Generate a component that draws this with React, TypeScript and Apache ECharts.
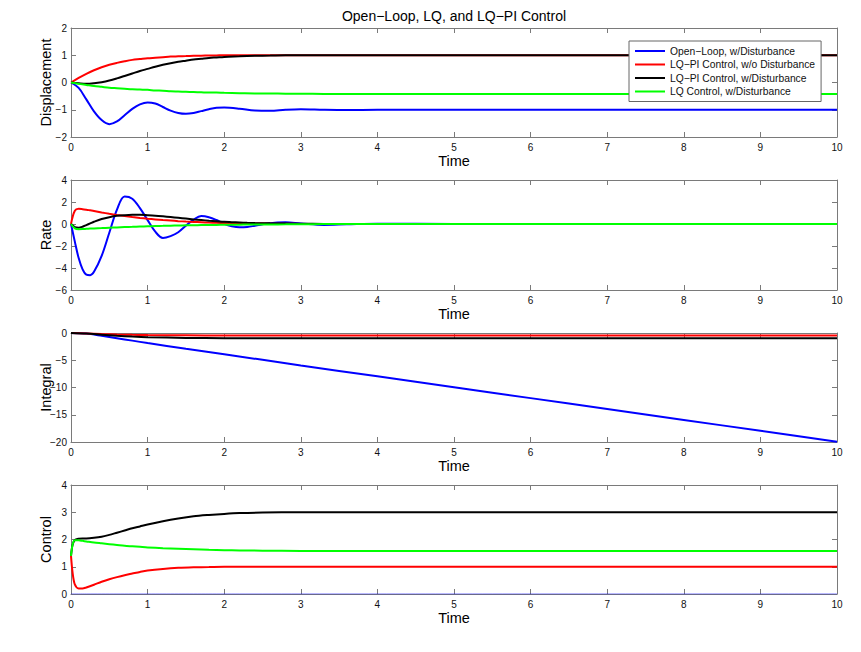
import { useEffect, useRef } from "react";
import * as echarts from "echarts";

// ---- labels -------------------------------------------------------------
const TITLE = "Open\u2212Loop, LQ, and LQ\u2212PI Control";
const SERIES_NAMES = [
  "Open\u2212Loop, w/Disturbance",
  "LQ\u2212PI Control, w/o Disturbance",
  "LQ\u2212PI Control, w/Disturbance",
  "LQ Control, w/Disturbance",
];
const COLORS = ["#0000ff", "#ff0000", "#000000", "#00ff00"];
const X_LABEL = "Time";

// ---- displacement -------------------------------------------------------
const tDisp = [0, 0.1, 0.2, 0.3, 0.4, 0.5, 0.6, 0.7, 0.8, 0.9, 1.0, 1.1, 1.2, 1.3, 1.4, 1.5, 1.6, 1.7, 1.8, 1.9, 2.0, 2.2, 2.4, 2.6, 2.8, 3.0, 3.3, 3.6, 4, 5, 6, 7, 8, 9, 10];
const dispOpenLoop = [0, -0.2, -0.62, -1.06, -1.38, -1.53, -1.43, -1.2, -0.97, -0.8, -0.73, -0.77, -0.9, -1.03, -1.12, -1.15, -1.12, -1.05, -0.98, -0.93, -0.92, -0.96, -1.03, -1.04, -1.0, -0.98, -1.0, -1.01, -1.0, -1.0, -1.0, -1.0, -1.0, -1.0, -1.0];
const dispPiClean = [0, 0.17, 0.32, 0.45, 0.56, 0.65, 0.72, 0.78, 0.83, 0.86, 0.89, 0.91, 0.93, 0.95, 0.96, 0.97, 0.98, 0.985, 0.99, 0.995, 1.0, 1.0, 1.0, 1.0, 1.0, 1.0, 1.0, 1.0, 1.0, 1.0, 1.0, 1.0, 1.0, 1.0, 1.0];
const dispPiDist = [0, -0.03, -0.05, -0.03, 0.01, 0.07, 0.15, 0.24, 0.33, 0.42, 0.5, 0.58, 0.65, 0.71, 0.76, 0.8, 0.84, 0.87, 0.9, 0.92, 0.94, 0.96, 0.98, 0.99, 1.0, 1.0, 1.0, 1.0, 1.0, 1.0, 1.0, 1.0, 1.0, 1.0, 1.0];
const dispLqDist = [0, -0.05, -0.09, -0.13, -0.16, -0.19, -0.21, -0.23, -0.25, -0.26, -0.27, -0.29, -0.3, -0.32, -0.33, -0.34, -0.35, -0.36, -0.37, -0.37, -0.38, -0.39, -0.4, -0.4, -0.41, -0.41, -0.42, -0.42, -0.42, -0.42, -0.42, -0.42, -0.42, -0.42, -0.42];

// ---- rate ---------------------------------------------------------------
const tRate = [0, 0.05, 0.1, 0.15, 0.2, 0.25, 0.3, 0.4, 0.5, 0.6, 0.7, 0.8, 0.9, 1.0, 1.1, 1.2, 1.3, 1.4, 1.5, 1.6, 1.7, 1.8, 1.9, 2.0, 2.1, 2.2, 2.3, 2.4, 2.6, 2.8, 3.0, 3.3, 3.6, 4, 5, 6, 7, 8, 9, 10];
const rateOpenLoop = [0, -1.6, -3.1, -4.1, -4.6, -4.65, -4.35, -2.9, -0.8, 1.3, 2.5, 2.3, 1.45, 0.35, -0.7, -1.27, -1.1, -0.75, -0.15, 0.4, 0.72, 0.62, 0.36, 0.02, -0.2, -0.3, -0.27, -0.16, 0.08, 0.15, 0.05, -0.08, -0.03, 0.03, 0, 0, 0, 0, 0, 0];
const ratePiClean = [0, 1.2, 1.38, 1.35, 1.3, 1.24, 1.18, 1.05, 0.93, 0.82, 0.72, 0.63, 0.55, 0.48, 0.42, 0.36, 0.31, 0.26, 0.22, 0.19, 0.16, 0.13, 0.11, 0.09, 0.07, 0.06, 0.05, 0.04, 0.03, 0.02, 0.01, 0, 0, 0, 0, 0, 0, 0, 0, 0];
const ratePiDist = [0, -0.28, -0.33, -0.25, -0.1, 0.05, 0.2, 0.45, 0.62, 0.74, 0.8, 0.83, 0.83, 0.8, 0.76, 0.7, 0.63, 0.56, 0.49, 0.42, 0.36, 0.3, 0.25, 0.2, 0.17, 0.14, 0.11, 0.09, 0.06, 0.04, 0.02, 0.01, 0, 0, 0, 0, 0, 0, 0, 0];
const rateLqDist = [0, -0.4, -0.47, -0.46, -0.44, -0.42, -0.4, -0.37, -0.34, -0.31, -0.28, -0.26, -0.23, -0.21, -0.19, -0.17, -0.15, -0.14, -0.12, -0.11, -0.1, -0.09, -0.08, -0.07, -0.06, -0.06, -0.05, -0.05, -0.04, -0.03, -0.02, -0.01, -0.01, 0, 0, 0, 0, 0, 0, 0];

// ---- integral -----------------------------------------------------------
const tInt = [0, 0.2, 0.4, 0.6, 0.8, 1.0, 1.5, 2, 3, 4, 5, 6, 7, 8, 9, 10];
const intOpenLoop = [0, -0.1, -0.5, -0.95, -1.4, -1.85, -2.9, -3.9, -5.95, -7.95, -9.95, -11.95, -13.95, -15.95, -17.95, -19.95];
const intPiClean = [0, -0.08, -0.2, -0.28, -0.34, -0.38, -0.43, -0.45, -0.45, -0.45, -0.45, -0.45, -0.45, -0.45, -0.45, -0.45];
const intPiDist = [0, -0.1, -0.3, -0.5, -0.65, -0.76, -0.9, -0.95, -0.97, -0.97, -0.97, -0.97, -0.97, -0.97, -0.97, -0.97];

// ---- control ------------------------------------------------------------
const tCtrl = [0, 0.02, 0.05, 0.1, 0.15, 0.2, 0.3, 0.4, 0.5, 0.6, 0.7, 0.8, 0.9, 1.0, 1.2, 1.4, 1.6, 1.8, 2.0, 2.2, 2.5, 3, 4, 5, 6, 7, 8, 9, 10];
const ctrlOpenLoop = [0, 0, 0, 0, 0, 0, 0, 0, 0, 0, 0, 0, 0, 0, 0, 0, 0, 0, 0, 0, 0, 0, 0, 0, 0, 0, 0, 0, 0];
const ctrlPiClean = [1.4, 0.8, 0.35, 0.2, 0.2, 0.24, 0.34, 0.45, 0.54, 0.62, 0.69, 0.75, 0.81, 0.86, 0.92, 0.96, 0.98, 0.99, 1.0, 1.0, 1.0, 1.0, 1.0, 1.0, 1.0, 1.0, 1.0, 1.0, 1.0];
const ctrlPiDist = [1.4, 1.8, 1.98, 2.03, 2.04, 2.04, 2.06, 2.1, 2.17, 2.25, 2.33, 2.41, 2.48, 2.55, 2.67, 2.77, 2.85, 2.9, 2.94, 2.97, 2.99, 3.0, 3.0, 3.0, 3.0, 3.0, 3.0, 3.0, 3.0];
const ctrlLqDist = [1.4, 1.8, 1.97, 1.97, 1.95, 1.93, 1.89, 1.86, 1.83, 1.8, 1.77, 1.75, 1.73, 1.71, 1.68, 1.66, 1.64, 1.62, 1.61, 1.6, 1.59, 1.58, 1.58, 1.58, 1.58, 1.58, 1.58, 1.58, 1.58];

type Panel = {
  label: string;
  min: number;
  max: number;
  interval: number;
  smooth: number | false;
  t: number[];
  lines: (number[] | null)[];
};

const PANELS: Panel[] = [
  { label: "Displacement", min: -2, max: 2, interval: 1, smooth: 0.35, t: tDisp, lines: [dispOpenLoop, dispPiClean, dispPiDist, dispLqDist] },
  { label: "Rate", min: -6, max: 4, interval: 2, smooth: 0.35, t: tRate, lines: [rateOpenLoop, ratePiClean, ratePiDist, rateLqDist] },
  { label: "Integral", min: -20, max: 0, interval: 5, smooth: 0.3, t: tInt, lines: [intOpenLoop, intPiClean, intPiDist, null] },
  { label: "Control", min: 0, max: 4, interval: 1, smooth: 0.3, t: tCtrl, lines: [ctrlOpenLoop, ctrlPiClean, ctrlPiDist, ctrlLqDist] },
];

const GRID_TOPS = [28, 180, 333, 485];
const GRID_HEIGHTS = [109, 110, 109, 109];
const FONT = "'Liberation Sans', Arial, Helvetica, sans-serif";
const FRAME = "#7a7a7a";

const minus = (v: number | string) => String(v).replace("-", "\u2212");

function buildOption() {
  const grid: any[] = [];
  const xAxis: any[] = [];
  const yAxis: any[] = [];
  const series: any[] = [];

  PANELS.forEach((p, i) => {
    grid.push({ left: 71, width: 766, top: GRID_TOPS[i], height: GRID_HEIGHTS[i], containLabel: false });

    const xBase = {
      type: "value",
      gridIndex: i,
      min: 0,
      max: 10,
      interval: 1,
      splitLine: { show: false },
      axisLine: { show: true, onZero: false, lineStyle: { color: FRAME, width: 1 } },
      axisTick: { show: true, inside: true, length: 5, lineStyle: { color: FRAME } },
    };
    xAxis.push({
      ...xBase,
      position: "bottom",
      name: X_LABEL,
      nameLocation: "middle",
      nameGap: 16,
      nameMoveOverlap: false,
      nameTextStyle: { color: "#000", fontSize: 14.5, fontFamily: FONT },
      axisLabel: { color: "#111", fontSize: 10, fontFamily: FONT, margin: 5, formatter: minus },
    });
    xAxis.push({ ...xBase, position: "top", axisLabel: { show: false } });

    const yBase = {
      type: "value",
      gridIndex: i,
      min: p.min,
      max: p.max,
      interval: p.interval,
      splitLine: { show: false },
      axisLine: { show: true, onZero: false, lineStyle: { color: FRAME, width: 1 } },
      axisTick: { show: true, inside: true, length: 5, lineStyle: { color: FRAME } },
    };
    yAxis.push({
      ...yBase,
      position: "left",
      name: p.label,
      nameLocation: "middle",
      nameGap: 18,
      nameRotate: 90,
      nameMoveOverlap: false,
      nameTextStyle: { color: "#000", fontSize: 14.5, fontFamily: FONT },
      axisLabel: { color: "#111", fontSize: 10, fontFamily: FONT, margin: 4, formatter: minus },
    });
    yAxis.push({ ...yBase, position: "right", axisLabel: { show: false } });

    p.lines.forEach((vals, k) => {
      if (!vals) return;
      const flatZero = i === 3 && vals.every((v) => v === 0);
      series.push({
        type: "line",
        name: SERIES_NAMES[k],
        xAxisIndex: 2 * i,
        yAxisIndex: 2 * i,
        data: p.t.map((t, j) => [t, vals[j]]),
        showSymbol: false,
        symbol: "none",
        smooth: p.smooth,
        clip: true,
        color: COLORS[k],
        lineStyle: { color: COLORS[k], width: flatZero ? 1 : 2, opacity: flatZero ? 0.55 : 1 },
      });
    });
  });

  return {
    animation: false,
    backgroundColor: "#ffffff",
    title: {
      text: TITLE,
      left: 454,
      top: 9,
      padding: 0,
      textAlign: "center",
      textStyle: { color: "#000", fontSize: 14, fontWeight: "normal", fontFamily: FONT },
    },
    legend: {
      data: SERIES_NAMES,
      orient: "vertical",
      left: 629,
      top: 41,
      padding: [4, 6, 4, 6],
      icon: "rect",
      itemWidth: 30,
      itemHeight: 2,
      itemGap: 1.5,
      selectedMode: false,
      backgroundColor: "#ffffff",
      borderColor: "#666",
      borderWidth: 1,
      borderRadius: 0,
      textStyle: { color: "#111", fontSize: 10.3, fontFamily: FONT, lineHeight: 12 },
    },
    grid,
    xAxis,
    yAxis,
    series,
  };
}

export default function App() {
  const ref = useRef<HTMLDivElement>(null);

  useEffect(() => {
    if (!ref.current) return;
    const chart = echarts.init(ref.current, undefined, { renderer: "svg" });
    chart.setOption(buildOption() as any);
    return () => chart.dispose();
  }, []);

  return (
    <div
      ref={ref}
      style={{ position: "fixed", left: 0, top: 0, width: 861, height: 652, background: "#fff" }}
    />
  );
}
